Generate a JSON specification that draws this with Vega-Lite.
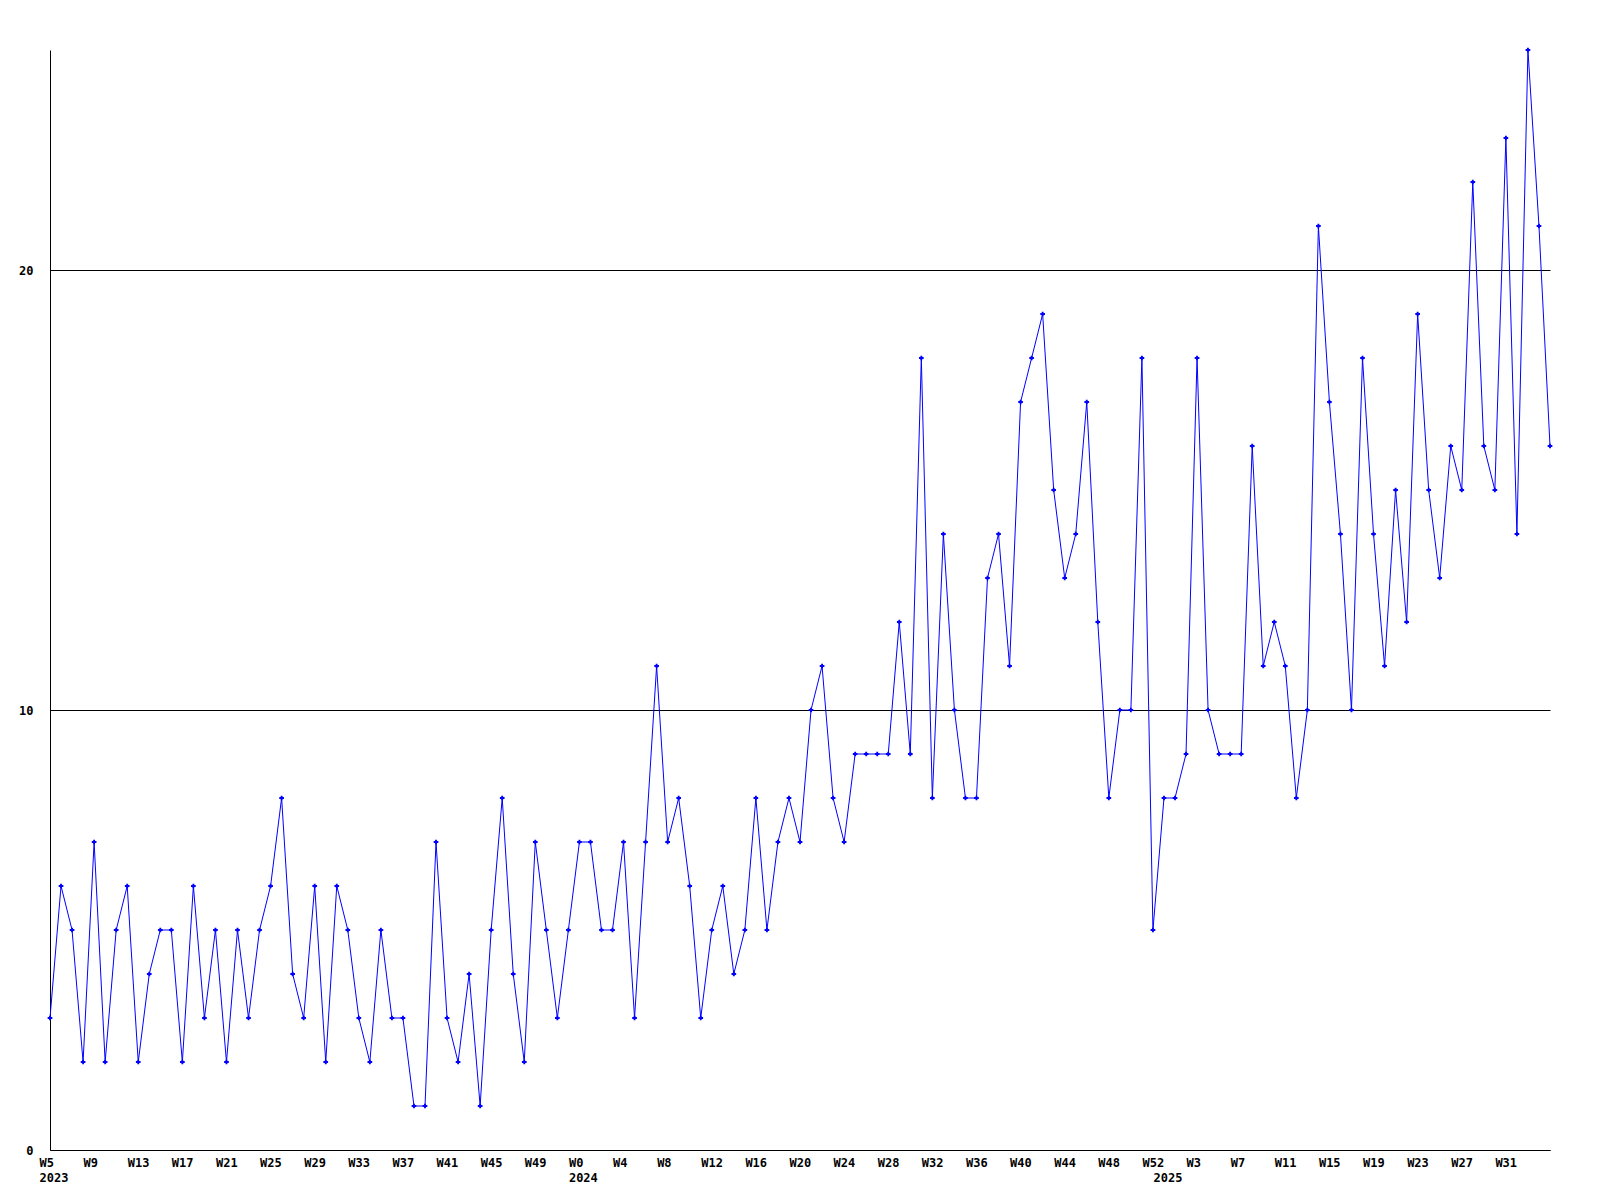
{
  "$schema": "https://vega.github.io/schema/vega-lite/v6.json",
  "width": 1500,
  "height": 1100,
  "autosize": {"type": "none"},
  "padding": {"left": 50, "top": 50, "right": 50, "bottom": 50},
  "background": "white",
  "config": {
    "view": {"stroke": null},
    "font": "DejaVu Sans Mono"
  },
  "data": {
    "values": [
      {"i":0,"year":2023,"week":5,"value":3},
      {"i":1,"year":2023,"week":6,"value":6},
      {"i":2,"year":2023,"week":7,"value":5},
      {"i":3,"year":2023,"week":8,"value":2},
      {"i":4,"year":2023,"week":9,"value":7},
      {"i":5,"year":2023,"week":10,"value":2},
      {"i":6,"year":2023,"week":11,"value":5},
      {"i":7,"year":2023,"week":12,"value":6},
      {"i":8,"year":2023,"week":13,"value":2},
      {"i":9,"year":2023,"week":14,"value":4},
      {"i":10,"year":2023,"week":15,"value":5},
      {"i":11,"year":2023,"week":16,"value":5},
      {"i":12,"year":2023,"week":17,"value":2},
      {"i":13,"year":2023,"week":18,"value":6},
      {"i":14,"year":2023,"week":19,"value":3},
      {"i":15,"year":2023,"week":20,"value":5},
      {"i":16,"year":2023,"week":21,"value":2},
      {"i":17,"year":2023,"week":22,"value":5},
      {"i":18,"year":2023,"week":23,"value":3},
      {"i":19,"year":2023,"week":24,"value":5},
      {"i":20,"year":2023,"week":25,"value":6},
      {"i":21,"year":2023,"week":26,"value":8},
      {"i":22,"year":2023,"week":27,"value":4},
      {"i":23,"year":2023,"week":28,"value":3},
      {"i":24,"year":2023,"week":29,"value":6},
      {"i":25,"year":2023,"week":30,"value":2},
      {"i":26,"year":2023,"week":31,"value":6},
      {"i":27,"year":2023,"week":32,"value":5},
      {"i":28,"year":2023,"week":33,"value":3},
      {"i":29,"year":2023,"week":34,"value":2},
      {"i":30,"year":2023,"week":35,"value":5},
      {"i":31,"year":2023,"week":36,"value":3},
      {"i":32,"year":2023,"week":37,"value":3},
      {"i":33,"year":2023,"week":38,"value":1},
      {"i":34,"year":2023,"week":39,"value":1},
      {"i":35,"year":2023,"week":40,"value":7},
      {"i":36,"year":2023,"week":41,"value":3},
      {"i":37,"year":2023,"week":42,"value":2},
      {"i":38,"year":2023,"week":43,"value":4},
      {"i":39,"year":2023,"week":44,"value":1},
      {"i":40,"year":2023,"week":45,"value":5},
      {"i":41,"year":2023,"week":46,"value":8},
      {"i":42,"year":2023,"week":47,"value":4},
      {"i":43,"year":2023,"week":48,"value":2},
      {"i":44,"year":2023,"week":49,"value":7},
      {"i":45,"year":2023,"week":50,"value":5},
      {"i":46,"year":2023,"week":51,"value":3},
      {"i":47,"year":2023,"week":52,"value":5},
      {"i":48,"year":2024,"week":0,"value":7},
      {"i":49,"year":2024,"week":1,"value":7},
      {"i":50,"year":2024,"week":2,"value":5},
      {"i":51,"year":2024,"week":3,"value":5},
      {"i":52,"year":2024,"week":4,"value":7},
      {"i":53,"year":2024,"week":5,"value":3},
      {"i":54,"year":2024,"week":6,"value":7},
      {"i":55,"year":2024,"week":7,"value":11},
      {"i":56,"year":2024,"week":8,"value":7},
      {"i":57,"year":2024,"week":9,"value":8},
      {"i":58,"year":2024,"week":10,"value":6},
      {"i":59,"year":2024,"week":11,"value":3},
      {"i":60,"year":2024,"week":12,"value":5},
      {"i":61,"year":2024,"week":13,"value":6},
      {"i":62,"year":2024,"week":14,"value":4},
      {"i":63,"year":2024,"week":15,"value":5},
      {"i":64,"year":2024,"week":16,"value":8},
      {"i":65,"year":2024,"week":17,"value":5},
      {"i":66,"year":2024,"week":18,"value":7},
      {"i":67,"year":2024,"week":19,"value":8},
      {"i":68,"year":2024,"week":20,"value":7},
      {"i":69,"year":2024,"week":21,"value":10},
      {"i":70,"year":2024,"week":22,"value":11},
      {"i":71,"year":2024,"week":23,"value":8},
      {"i":72,"year":2024,"week":24,"value":7},
      {"i":73,"year":2024,"week":25,"value":9},
      {"i":74,"year":2024,"week":26,"value":9},
      {"i":75,"year":2024,"week":27,"value":9},
      {"i":76,"year":2024,"week":28,"value":9},
      {"i":77,"year":2024,"week":29,"value":12},
      {"i":78,"year":2024,"week":30,"value":9},
      {"i":79,"year":2024,"week":31,"value":18},
      {"i":80,"year":2024,"week":32,"value":8},
      {"i":81,"year":2024,"week":33,"value":14},
      {"i":82,"year":2024,"week":34,"value":10},
      {"i":83,"year":2024,"week":35,"value":8},
      {"i":84,"year":2024,"week":36,"value":8},
      {"i":85,"year":2024,"week":37,"value":13},
      {"i":86,"year":2024,"week":38,"value":14},
      {"i":87,"year":2024,"week":39,"value":11},
      {"i":88,"year":2024,"week":40,"value":17},
      {"i":89,"year":2024,"week":41,"value":18},
      {"i":90,"year":2024,"week":42,"value":19},
      {"i":91,"year":2024,"week":43,"value":15},
      {"i":92,"year":2024,"week":44,"value":13},
      {"i":93,"year":2024,"week":45,"value":14},
      {"i":94,"year":2024,"week":46,"value":17},
      {"i":95,"year":2024,"week":47,"value":12},
      {"i":96,"year":2024,"week":48,"value":8},
      {"i":97,"year":2024,"week":49,"value":10},
      {"i":98,"year":2024,"week":50,"value":10},
      {"i":99,"year":2024,"week":51,"value":18},
      {"i":100,"year":2024,"week":52,"value":5},
      {"i":101,"year":2025,"week":0,"value":8},
      {"i":102,"year":2025,"week":1,"value":8},
      {"i":103,"year":2025,"week":2,"value":9},
      {"i":104,"year":2025,"week":3,"value":18},
      {"i":105,"year":2025,"week":4,"value":10},
      {"i":106,"year":2025,"week":5,"value":9},
      {"i":107,"year":2025,"week":6,"value":9},
      {"i":108,"year":2025,"week":7,"value":9},
      {"i":109,"year":2025,"week":8,"value":16},
      {"i":110,"year":2025,"week":9,"value":11},
      {"i":111,"year":2025,"week":10,"value":12},
      {"i":112,"year":2025,"week":11,"value":11},
      {"i":113,"year":2025,"week":12,"value":8},
      {"i":114,"year":2025,"week":13,"value":10},
      {"i":115,"year":2025,"week":14,"value":21},
      {"i":116,"year":2025,"week":15,"value":17},
      {"i":117,"year":2025,"week":16,"value":14},
      {"i":118,"year":2025,"week":17,"value":10},
      {"i":119,"year":2025,"week":18,"value":18},
      {"i":120,"year":2025,"week":19,"value":14},
      {"i":121,"year":2025,"week":20,"value":11},
      {"i":122,"year":2025,"week":21,"value":15},
      {"i":123,"year":2025,"week":22,"value":12},
      {"i":124,"year":2025,"week":23,"value":19},
      {"i":125,"year":2025,"week":24,"value":15},
      {"i":126,"year":2025,"week":25,"value":13},
      {"i":127,"year":2025,"week":26,"value":16},
      {"i":128,"year":2025,"week":27,"value":15},
      {"i":129,"year":2025,"week":28,"value":22},
      {"i":130,"year":2025,"week":29,"value":16},
      {"i":131,"year":2025,"week":30,"value":15},
      {"i":132,"year":2025,"week":31,"value":23},
      {"i":133,"year":2025,"week":32,"value":14},
      {"i":134,"year":2025,"week":33,"value":25},
      {"i":135,"year":2025,"week":34,"value":21},
      {"i":136,"year":2025,"week":35,"value":16}
    ]
  },
  "encoding": {
    "x": {
      "field": "i",
      "type": "quantitative",
      "scale": {"domain": [0, 136], "nice": false, "zero": false},
      "axis": {
        "title": null,
        "values": [0,4,8,12,16,20,24,28,32,36,40,44,48,52,56,60,64,68,72,76,80,84,88,92,96,100,101,104,108,112,116,120,124,128,132],
        "labelExpr": "datum.value == 101 ? ['', '2025'] : datum.value == 0 ? ['W5', '2023'] : datum.value == 48 ? ['W0', '2024'] : 'W' + (datum.value < 48 ? datum.value + 5 : datum.value < 101 ? datum.value - 48 : datum.value - 101)",
        "labelAlign": "left",
        "labelOffset": -11,
        "labelBaseline": "top",
        "labelPadding": 7,
        "labelLineHeight": 15,
        "labelFont": "DejaVu Sans Mono",
        "labelFontWeight": "bold",
        "labelFontSize": 12,
        "labelColor": "black",
        "labelOverlap": false,
        "labelFlush": false,
        "ticks": false,
        "grid": false,
        "domainColor": "black",
        "domainWidth": 1
      }
    },
    "y": {
      "field": "value",
      "type": "quantitative",
      "scale": {"domain": [0, 25], "nice": false},
      "axis": {
        "title": null,
        "values": [0, 10, 20],
        "ticks": false,
        "grid": true,
        "gridColor": "black",
        "gridOpacity": 1,
        "gridWidth": 1,
        "labelPadding": 17,
        "labelFont": "DejaVu Sans Mono",
        "labelFontWeight": "bold",
        "labelFontSize": 12,
        "labelColor": "black",
        "labelFlush": false,
        "domainColor": "black",
        "domainWidth": 1
      }
    }
  },
  "layer": [
    {"mark": {"type": "line", "color": "#0000ff", "strokeWidth": 1}},
    {"mark": {"type": "point", "shape": "cross", "filled": true, "color": "#0000ff", "size": 22, "opacity": 1}}
  ]
}
